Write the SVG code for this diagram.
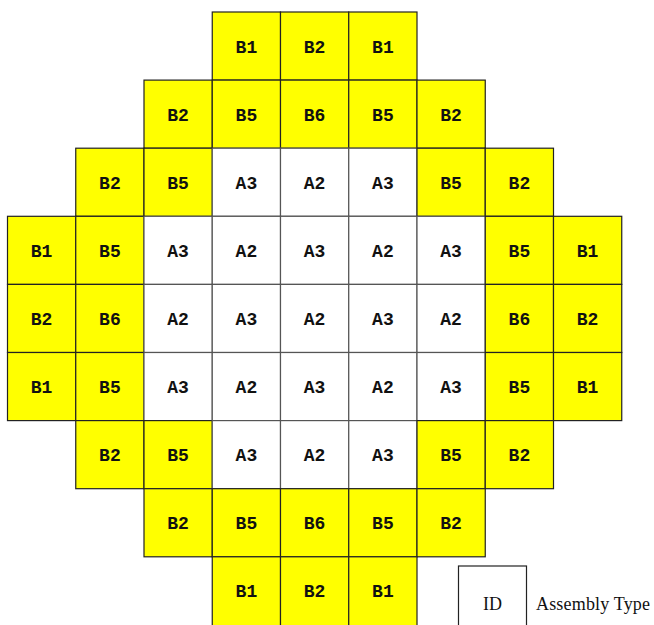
<svg xmlns="http://www.w3.org/2000/svg" width="654" height="625" viewBox="0 0 654 625">
<style>
.y{fill:#ffff00;stroke:#222;stroke-width:1.2}
.w{fill:#ffffff;stroke:#555;stroke-width:1.2}
.t{font-family:"Courier New","Liberation Mono","Nimbus Mono PS",FreeMono,monospace;font-weight:bold;font-size:18px;fill:#111;text-anchor:middle}
.s{font-family:"Liberation Serif","DejaVu Serif",serif;font-size:18px;fill:#111}
</style>
<rect width="654" height="625" fill="#fff"/>
<g id="cells">
<g id="r0c3"><rect class="y" x="212.25" y="12" width="68.25" height="68.1"/><text class="t" x="246.4" y="52.5">B1</text></g>
<g id="r0c4"><rect class="y" x="280.5" y="12" width="68.25" height="68.1"/><text class="t" x="314.6" y="52.5">B2</text></g>
<g id="r0c5"><rect class="y" x="348.75" y="12" width="68.25" height="68.1"/><text class="t" x="382.9" y="52.5">B1</text></g>

<g id="r1c2"><rect class="y" x="144" y="80.1" width="68.25" height="68.1"/><text class="t" x="178.1" y="120.6">B2</text></g>
<g id="r1c3"><rect class="y" x="212.25" y="80.1" width="68.25" height="68.1"/><text class="t" x="246.4" y="120.6">B5</text></g>
<g id="r1c4"><rect class="y" x="280.5" y="80.1" width="68.25" height="68.1"/><text class="t" x="314.6" y="120.6">B6</text></g>
<g id="r1c5"><rect class="y" x="348.75" y="80.1" width="68.25" height="68.1"/><text class="t" x="382.9" y="120.6">B5</text></g>
<g id="r1c6"><rect class="y" x="417" y="80.1" width="68.25" height="68.1"/><text class="t" x="451.1" y="120.6">B2</text></g>

<g id="r2c1"><rect class="y" x="75.75" y="148.2" width="68.25" height="68.1"/><text class="t" x="109.9" y="188.7">B2</text></g>
<g id="r2c2"><rect class="y" x="144" y="148.2" width="68.25" height="68.1"/><text class="t" x="178.1" y="188.7">B5</text></g>
<g id="r2c3"><rect class="w" x="212.25" y="148.2" width="68.25" height="68.1"/><text class="t" x="246.4" y="188.7">A3</text></g>
<g id="r2c4"><rect class="w" x="280.5" y="148.2" width="68.25" height="68.1"/><text class="t" x="314.6" y="188.7">A2</text></g>
<g id="r2c5"><rect class="w" x="348.75" y="148.2" width="68.25" height="68.1"/><text class="t" x="382.9" y="188.7">A3</text></g>
<g id="r2c6"><rect class="y" x="417" y="148.2" width="68.25" height="68.1"/><text class="t" x="451.1" y="188.7">B5</text></g>
<g id="r2c7"><rect class="y" x="485.25" y="148.2" width="68.25" height="68.1"/><text class="t" x="519.4" y="188.7">B2</text></g>

<g id="r3c0"><rect class="y" x="7.5" y="216.3" width="68.25" height="68.1"/><text class="t" x="41.6" y="256.8">B1</text></g>
<g id="r3c1"><rect class="y" x="75.75" y="216.3" width="68.25" height="68.1"/><text class="t" x="109.9" y="256.8">B5</text></g>
<g id="r3c2"><rect class="w" x="144" y="216.3" width="68.25" height="68.1"/><text class="t" x="178.1" y="256.8">A3</text></g>
<g id="r3c3"><rect class="w" x="212.25" y="216.3" width="68.25" height="68.1"/><text class="t" x="246.4" y="256.8">A2</text></g>
<g id="r3c4"><rect class="w" x="280.5" y="216.3" width="68.25" height="68.1"/><text class="t" x="314.6" y="256.8">A3</text></g>
<g id="r3c5"><rect class="w" x="348.75" y="216.3" width="68.25" height="68.1"/><text class="t" x="382.9" y="256.8">A2</text></g>
<g id="r3c6"><rect class="w" x="417" y="216.3" width="68.25" height="68.1"/><text class="t" x="451.1" y="256.8">A3</text></g>
<g id="r3c7"><rect class="y" x="485.25" y="216.3" width="68.25" height="68.1"/><text class="t" x="519.4" y="256.8">B5</text></g>
<g id="r3c8"><rect class="y" x="553.5" y="216.3" width="68.25" height="68.1"/><text class="t" x="587.6" y="256.8">B1</text></g>

<g id="r4c0"><rect class="y" x="7.5" y="284.4" width="68.25" height="68.1"/><text class="t" x="41.6" y="324.9">B2</text></g>
<g id="r4c1"><rect class="y" x="75.75" y="284.4" width="68.25" height="68.1"/><text class="t" x="109.9" y="324.9">B6</text></g>
<g id="r4c2"><rect class="w" x="144" y="284.4" width="68.25" height="68.1"/><text class="t" x="178.1" y="324.9">A2</text></g>
<g id="r4c3"><rect class="w" x="212.25" y="284.4" width="68.25" height="68.1"/><text class="t" x="246.4" y="324.9">A3</text></g>
<g id="r4c4"><rect class="w" x="280.5" y="284.4" width="68.25" height="68.1"/><text class="t" x="314.6" y="324.9">A2</text></g>
<g id="r4c5"><rect class="w" x="348.75" y="284.4" width="68.25" height="68.1"/><text class="t" x="382.9" y="324.9">A3</text></g>
<g id="r4c6"><rect class="w" x="417" y="284.4" width="68.25" height="68.1"/><text class="t" x="451.1" y="324.9">A2</text></g>
<g id="r4c7"><rect class="y" x="485.25" y="284.4" width="68.25" height="68.1"/><text class="t" x="519.4" y="324.9">B6</text></g>
<g id="r4c8"><rect class="y" x="553.5" y="284.4" width="68.25" height="68.1"/><text class="t" x="587.6" y="324.9">B2</text></g>

<g id="r5c0"><rect class="y" x="7.5" y="352.5" width="68.25" height="68.1"/><text class="t" x="41.6" y="393">B1</text></g>
<g id="r5c1"><rect class="y" x="75.75" y="352.5" width="68.25" height="68.1"/><text class="t" x="109.9" y="393">B5</text></g>
<g id="r5c2"><rect class="w" x="144" y="352.5" width="68.25" height="68.1"/><text class="t" x="178.1" y="393">A3</text></g>
<g id="r5c3"><rect class="w" x="212.25" y="352.5" width="68.25" height="68.1"/><text class="t" x="246.4" y="393">A2</text></g>
<g id="r5c4"><rect class="w" x="280.5" y="352.5" width="68.25" height="68.1"/><text class="t" x="314.6" y="393">A3</text></g>
<g id="r5c5"><rect class="w" x="348.75" y="352.5" width="68.25" height="68.1"/><text class="t" x="382.9" y="393">A2</text></g>
<g id="r5c6"><rect class="w" x="417" y="352.5" width="68.25" height="68.1"/><text class="t" x="451.1" y="393">A3</text></g>
<g id="r5c7"><rect class="y" x="485.25" y="352.5" width="68.25" height="68.1"/><text class="t" x="519.4" y="393">B5</text></g>
<g id="r5c8"><rect class="y" x="553.5" y="352.5" width="68.25" height="68.1"/><text class="t" x="587.6" y="393">B1</text></g>

<g id="r6c1"><rect class="y" x="75.75" y="420.6" width="68.25" height="68.1"/><text class="t" x="109.9" y="461.1">B2</text></g>
<g id="r6c2"><rect class="y" x="144" y="420.6" width="68.25" height="68.1"/><text class="t" x="178.1" y="461.1">B5</text></g>
<g id="r6c3"><rect class="w" x="212.25" y="420.6" width="68.25" height="68.1"/><text class="t" x="246.4" y="461.1">A3</text></g>
<g id="r6c4"><rect class="w" x="280.5" y="420.6" width="68.25" height="68.1"/><text class="t" x="314.6" y="461.1">A2</text></g>
<g id="r6c5"><rect class="w" x="348.75" y="420.6" width="68.25" height="68.1"/><text class="t" x="382.9" y="461.1">A3</text></g>
<g id="r6c6"><rect class="y" x="417" y="420.6" width="68.25" height="68.1"/><text class="t" x="451.1" y="461.1">B5</text></g>
<g id="r6c7"><rect class="y" x="485.25" y="420.6" width="68.25" height="68.1"/><text class="t" x="519.4" y="461.1">B2</text></g>

<g id="r7c2"><rect class="y" x="144" y="488.7" width="68.25" height="68.1"/><text class="t" x="178.1" y="529.2">B2</text></g>
<g id="r7c3"><rect class="y" x="212.25" y="488.7" width="68.25" height="68.1"/><text class="t" x="246.4" y="529.2">B5</text></g>
<g id="r7c4"><rect class="y" x="280.5" y="488.7" width="68.25" height="68.1"/><text class="t" x="314.6" y="529.2">B6</text></g>
<g id="r7c5"><rect class="y" x="348.75" y="488.7" width="68.25" height="68.1"/><text class="t" x="382.9" y="529.2">B5</text></g>
<g id="r7c6"><rect class="y" x="417" y="488.7" width="68.25" height="68.1"/><text class="t" x="451.1" y="529.2">B2</text></g>

<g id="r8c3"><rect class="y" x="212.25" y="556.8" width="68.25" height="70"/><text class="t" x="246.4" y="597.3">B1</text></g>
<g id="r8c4"><rect class="y" x="280.5" y="556.8" width="68.25" height="70"/><text class="t" x="314.6" y="597.3">B2</text></g>
<g id="r8c5"><rect class="y" x="348.75" y="556.8" width="68.25" height="70"/><text class="t" x="382.9" y="597.3">B1</text></g>
</g>
<g id="connectors"></g>
<g id="legend">
<rect x="458.5" y="566" width="68" height="62" fill="#fff" stroke="#222" stroke-width="1.2"/>
<text class="s" x="492.5" y="610" text-anchor="middle">ID</text>
<text class="s" x="536" y="610" textLength="114">Assembly Type</text>
</g>
</svg>
